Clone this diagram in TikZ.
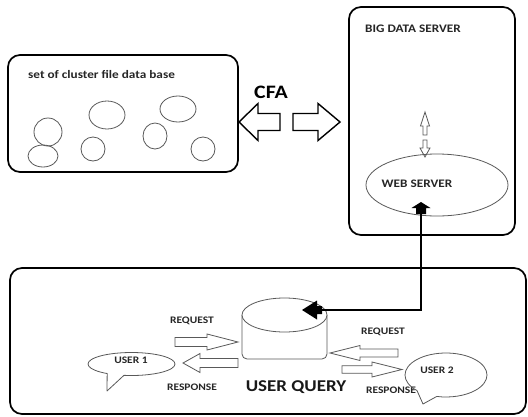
\documentclass[tikz,border=0pt]{standalone}
\usepackage{fontspec}
\setmainfont{Carlito}[FakeStretch=1.15]
\usetikzlibrary{arrows.meta,calc}
\tikzset{
  frame/.style={draw=black, line width=1.7pt, rounded corners=12pt},
  blob/.style={draw=black!65, line width=0.8pt},
  bigarrow/.style={draw=black, line width=1.4pt, fill=white, line join=miter},
  smallarrow/.style={draw=black!65, line width=0.8pt, fill=white, line join=miter},
  lbl/.style={font=\bfseries\fontsize{10}{12}\selectfont, text=black!85, inner sep=0pt},
  title/.style={font=\bfseries\fontsize{11.5}{13}\selectfont, text=black!85, inner sep=0pt},
  bubble/.style={draw=black!65, line width=0.8pt, line join=round},
  link/.style={draw=black, line width=2.4pt},
  linkhead/.style={fill=black}
}
% horizontal block arrow: style, tail x, tip x, y, shaft half, head half, head length
\newcommand\harrow[7]{%
  \pgfmathsetmacro\hb{#3-sign(#3-#2)*#7}%
  \draw[#1] (#2,#4-#5) -- (\hb,#4-#5) -- (\hb,#4-#6) -- (#3,#4) -- (\hb,#4+#6) -- (\hb,#4+#5) -- (#2,#4+#5) -- cycle;}
% vertical block arrow: style, x, tail y, tip y, shaft half, head half, head length
\newcommand\varrow[7]{%
  \pgfmathsetmacro\vb{#4-sign(#4-#3)*#7}%
  \draw[#1] (#2-#5,#3) -- (#2-#5,\vb) -- (#2-#6,\vb) -- (#2,#4) -- (#2+#6,\vb) -- (#2+#5,\vb) -- (#2+#5,#3) -- cycle;}
\begin{document}
\begin{tikzpicture}[x=1pt,y=-1pt]
\fill[white] (0,0) rectangle (528,416);
\useasboundingbox (0,0) rectangle (528,416);

% cluster file data base
\draw[frame] (8,55) rectangle (238,172);
\node[title, anchor=west] (cl) at (28,74) {set of cluster file data base};
\draw[blob] (48,132) ellipse [x radius=14, y radius=14];
\draw[blob] (107,115) ellipse [x radius=18, y radius=14];
\draw[blob] (178,109) ellipse [x radius=18, y radius=13];
\draw[blob] (155,136) ellipse [x radius=12, y radius=13];
\draw[blob] (93,149) ellipse [x radius=12, y radius=12];
\draw[blob] (43,156) ellipse [x radius=15, y radius=11];
\draw[blob] (203,149) ellipse [x radius=12, y radius=12];

% CFA
\node[font=\bfseries\fontsize{19}{22}\selectfont, inner sep=0pt] (cfa) at (271,92) {CFA};
\harrow{bigarrow}{280}{239}{122}{8.5}{18.5}{19}
\harrow{bigarrow}{293}{340}{122}{8.5}{18.5}{22}

% big data server
\draw[frame] (349,7) rectangle (515,235);
\node[title, anchor=west] (bds) at (365,29) {BIG DATA SERVER};
\varrow{smallarrow}{425}{135}{112}{2}{4.5}{14}
\varrow{smallarrow}{425}{140}{157}{2}{5}{9}
\draw[blob] (437,185) ellipse [x radius=71, y radius=31];
\node[title] (ws) at (417,184) {WEB SERVER};

% user query box
\draw[frame] (10,268) rectangle (526,414);
\draw[blob, rounded corners=5pt] (242,315) -- (242,359) -- (327,359) -- (327,315);
\draw[blob, fill=white] (284.5,315) ellipse [x radius=42.5, y radius=17];
\node[font=\bfseries\fontsize{16.5}{19}\selectfont, text=black!90, inner sep=0pt] (uq) at (296,387) {USER QUERY};

% link web server <-> user query
\coordinate (wsin) at (421,202);
\coordinate (uqin) at (302,310);
\draw[link] ($(wsin)+(0,11)$) |- ($(uqin)+(19,0)$);
\fill[linkhead] (wsin) -- ++(9.5,6) -- ++(-4.5,0) -- ++(0,6) -- ++(-10,0) -- ++(0,-6) -- ++(-4.5,0) -- cycle;
\fill[linkhead] (uqin) -- ++(15,-9.5) -- ++(0,5.5) -- ++(5,0) -- ++(0,8) -- ++(-5,0) -- ++(0,5.5) -- cycle;

% left side request / response
\node[lbl] (req1) at (192,321) {REQUEST};
\harrow{smallarrow}{175}{238}{342}{4.5}{8}{31}
\harrow{smallarrow}{238}{183}{363}{4.5}{9.5}{17}
\node[lbl] (res1) at (192,387) {RESPONSE};

% right side request / response
\node[lbl] (req2) at (383,332) {REQUEST};
\harrow{smallarrow}{398}{330}{353}{4}{7.5}{30}
\harrow{smallarrow}{342}{402}{369.5}{3.8}{7.5}{30}
\node[lbl] (res2) at (391,390) {RESPONSE};

% user bubbles
\draw[bubble] (131.5,364) ++(124:43.5 and 11.5)
  arc[start angle=124, end angle=460, x radius=43.5, y radius=11.5] -- (107,391) -- cycle;
\node[lbl] (u1) at (131,360) {USER 1};
\draw[bubble] (446,375) ++(135:41 and 22)
  arc[start angle=135, end angle=463, x radius=41, y radius=22] -- (423,404) -- cycle;
\node[lbl] (u2) at (437,370) {USER 2};
\end{tikzpicture}
\end{document}
